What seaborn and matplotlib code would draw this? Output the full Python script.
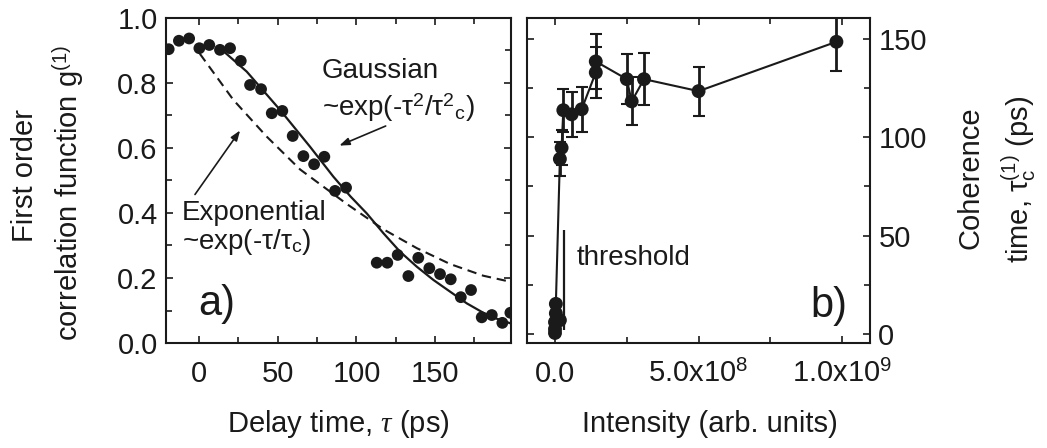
import matplotlib
matplotlib.use("Agg")
import matplotlib.pyplot as plt
import seaborn as sns
import pandas as pd
from matplotlib.ticker import MultipleLocator, FixedLocator, FixedFormatter

# ---------------- data: panel a) ----------------
delay_ps = [-19.3, -12.8, -6.3, 0.2, 6.5, 13.3, 19.7, 26.5, 32.4, 39.4, 46.2, 52.9,
            59.5, 66.3, 73.1, 79.6, 86.4, 93.4, 112.9, 119.6, 126.2, 133.0, 139.3,
            146.3, 153.1, 159.9, 166.3, 172.8, 179.6, 186.0, 192.7, 197.8]
g1_values = [0.904, 0.930, 0.937, 0.907, 0.917, 0.902, 0.907, 0.868, 0.794, 0.781,
             0.707, 0.714, 0.637, 0.575, 0.550, 0.573, 0.468, 0.478, 0.247, 0.247,
             0.271, 0.206, 0.262, 0.230, 0.212, 0.196, 0.141, 0.163, 0.079, 0.086,
             0.062, 0.093]

gauss_fit_x = [15, 30.3, 51.5, 70.5, 85.3, 96.2, 106.5, 117.1, 127.7, 138.3, 148.9,
               159.5, 170.1, 180.6, 189.0, 198.2]
gauss_fit_y = [0.900, 0.835, 0.717, 0.604, 0.512, 0.451, 0.399, 0.338, 0.281, 0.235,
               0.194, 0.158, 0.122, 0.093, 0.075, 0.060]

exp_fit_x = [0.5, 21.8, 43.0, 64.2, 93.8, 117.1, 138.3, 159.5, 180.6, 198.2]
exp_fit_y = [0.890, 0.748, 0.635, 0.534, 0.428, 0.350, 0.292, 0.243, 0.207, 0.188]

# ---------------- data: panel b) ----------------
intensity = [0.0, 0.0, 0.0, 0.17e8, 0.03e8, 0.03e8, 0.17e8, 0.23e8, 0.29e8, 0.58e8,
             0.93e8, 1.42e8, 1.42e8, 2.50e8, 2.67e8, 3.10e8, 5.00e8, 9.80e8]
coherence_ps = [0.5, 2.5, 6.0, 7.0, 10.5, 15.3, 89.0, 94.7, 113.8, 111.7, 114.3,
                133.0, 138.6, 129.6, 118.3, 129.6, 123.5, 148.6]
coherence_err = [0, 0, 0, 0, 0, 0, 8.5, 9.0, 11.0, 11.3, 11.5, 13.0, 14.0, 12.7,
                 12.2, 13.3, 12.5, 15.0]

threshold_x = 0.32e8
threshold_y = (2, 53)

# ticks / labels
left_xticks = [0, 50, 100, 150]
left_yticks = [0.0, 0.2, 0.4, 0.6, 0.8, 1.0]
right_xticks = [0, 5e8, 1e9]
right_xticklabels = ["0.0", r"5.0x10$^{\mathregular{8}}$", r"1.0x10$^{\mathregular{9}}$"]
right_yticks = [0, 50, 100, 150]

# ---------------- style ----------------
sns.set_style("ticks")
plt.rcParams["font.family"] = ["Liberation Sans", "DejaVu Sans"]
plt.rcParams["mathtext.fontset"] = "custom"
plt.rcParams["mathtext.rm"] = "Liberation Sans"
plt.rcParams["mathtext.sf"] = "Liberation Sans"
plt.rcParams["mathtext.it"] = "Liberation Serif:italic"
plt.rcParams["axes.linewidth"] = 1.5
INK = "#1a1a1a"
TICK_FS = 21
LABEL_FS = 21
NOTE_FS = 20

W, H = 1047, 448
fig = plt.figure(figsize=(W / 100, H / 100), dpi=100)
ax1 = fig.add_axes([166 / W, 1 - 343 / H, 345 / W, 325 / H])
ax2 = fig.add_axes([527 / W, 1 - 343 / H, 343 / W, 325 / H])

# ---------------- panel a ----------------
dfa = pd.DataFrame({"delay": delay_ps, "g1": g1_values})
sns.lineplot(x=exp_fit_x, y=exp_fit_y, ax=ax1, color=INK, lw=1.5, sort=False,
             linestyle=(0, (4.5, 2.8)), zorder=2)
sns.lineplot(x=gauss_fit_x, y=gauss_fit_y, ax=ax1, color=INK, lw=1.6, sort=False, zorder=2)
sns.scatterplot(data=dfa, x="delay", y="g1", ax=ax1, color=INK, s=72,
                edgecolor="none", zorder=3, clip_on=True)
ax1.set_xlim(-21, 198.2)
ax1.set_ylim(0, 1.0)
ax1.xaxis.set_major_locator(FixedLocator(left_xticks))
ax1.xaxis.set_minor_locator(MultipleLocator(25))
ax1.yaxis.set_major_locator(FixedLocator(left_yticks))
ax1.yaxis.set_minor_locator(MultipleLocator(0.1))
ax1.yaxis.set_major_formatter(FixedFormatter([f"{v:.1f}" for v in left_yticks]))
ax1.set_xlabel("")
ax1.set_ylabel("")

ax1.text(78, 0.815, "Gaussian", fontsize=NOTE_FS, color=INK, ha="left", va="baseline")
ax1.text(78, 0.70, r"~exp(-τ$^{\mathregular{2}}$/τ$^{\mathregular{2}}$$_{\mathregular{c}}$)",
         fontsize=NOTE_FS, color=INK, ha="left", va="baseline")
ax1.annotate("", xy=(87.5, 0.604), xytext=(120.2, 0.671),
             arrowprops=dict(arrowstyle="-|>,head_length=0.6,head_width=0.22",
                             color=INK, lw=1.2))
ax1.text(-10.8, 0.378, "Exponential", fontsize=NOTE_FS, color=INK, ha="left", va="baseline")
ax1.text(-10.8, 0.29, r"~exp(-τ/τ$_{\mathregular{c}}$)", fontsize=NOTE_FS, color=INK,
         ha="left", va="baseline")
ax1.annotate("", xy=(27.1, 0.661), xytext=(-3.6, 0.45),
             arrowprops=dict(arrowstyle="-|>,head_length=0.6,head_width=0.22",
                             color=INK, lw=1.2))
ax1.text(0.093, 0.086, "a)", transform=ax1.transAxes, fontsize=30, color=INK,
         ha="left", va="baseline")

# ---------------- panel b ----------------
dfb = pd.DataFrame({"I": intensity, "t": coherence_ps, "e": coherence_err})
sns.lineplot(data=dfb, x="I", y="t", ax=ax2, color=INK, lw=1.5, sort=False,
             estimator=None, zorder=2)
dfe = dfb[dfb["e"] > 0]
ax2.errorbar(dfe["I"], dfe["t"], yerr=dfe["e"], fmt="none", ecolor=INK,
             elinewidth=2.0, capsize=4, capthick=1.5, zorder=2)
sns.scatterplot(data=dfb, x="I", y="t", ax=ax2, color=INK, s=100,
                edgecolor="none", zorder=3)
ax2.vlines(threshold_x, threshold_y[0], threshold_y[1], color=INK, lw=1.6)
ax2.text(0.77e8, 38.8, "threshold", fontsize=NOTE_FS, color=INK, ha="left", va="center")
ax2.text(0.933, 0.08, "b)", transform=ax2.transAxes, fontsize=30, color=INK,
         ha="right", va="baseline")
ax2.set_xlim(-0.975e8, 1.097e9)
ax2.set_ylim(-4.6, 160.7)
ax2.xaxis.set_major_locator(FixedLocator(right_xticks))
ax2.xaxis.set_major_formatter(FixedFormatter(right_xticklabels))
ax2.xaxis.set_minor_locator(MultipleLocator(2.5e8))
ax2.yaxis.set_major_locator(FixedLocator(right_yticks))
ax2.yaxis.set_minor_locator(MultipleLocator(25))
ax2.set_xlabel("")
ax2.set_ylabel("")

for ax in (ax1, ax2):
    for sp in ax.spines.values():
        sp.set_visible(True)
        sp.set_color(INK)
        sp.set_linewidth(1.5)
    ax.tick_params(which="both", direction="in", top=True, right=True, left=True,
                   bottom=True, color=INK, width=1.2, labelsize=TICK_FS,
                   labelcolor=INK)
    ax.tick_params(which="major", length=5)
    ax.tick_params(which="minor", length=4)
ax1.tick_params(axis="x", pad=12)
ax1.tick_params(axis="y", pad=6)
ax2.tick_params(axis="x", pad=12)
ax2.tick_params(axis="y", labelleft=False, labelright=True, pad=6)

# ---------------- axis labels ----------------
fig.text(25 / W, 1 - 176 / H, "First order", rotation=90, fontsize=LABEL_FS,
         color=INK, ha="center", va="center")
fig.text(68 / W, 1 - 193 / H, r"correlation function g$^{\mathregular{(1)}}$",
         rotation=90, fontsize=LABEL_FS, color=INK, ha="center", va="center")
fig.text(338 / W, 1 - 424 / H, r"Delay time, $\tau$ (ps)", fontsize=LABEL_FS,
         color=INK, ha="center", va="center")
fig.text(710 / W, 1 - 424 / H, "Intensity (arb. units)", fontsize=LABEL_FS,
         color=INK, ha="center", va="center")
fig.text(970 / W, 1 - 178 / H, "Coherence", rotation=90, fontsize=LABEL_FS,
         color=INK, ha="center", va="center")
fig.text(1019 / W, 1 - 179 / H,
         r"time, τ$_{\mathregular{c}}^{\mathregular{(1)}}$ (ps)", rotation=90,
         fontsize=LABEL_FS, color=INK, ha="center", va="center")

fig.savefig("out.png", dpi=100)
